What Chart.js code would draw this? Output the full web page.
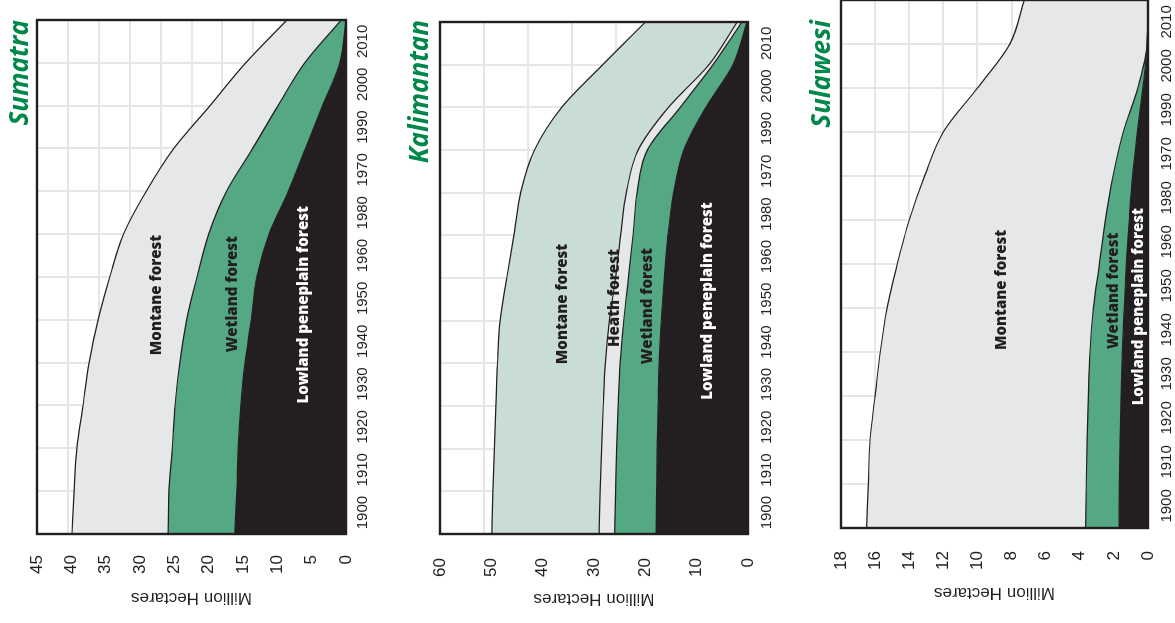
<!DOCTYPE html>
<html>
<head>
<meta charset="utf-8">
<script src="https://cdn.jsdelivr.net/npm/chart.js@4.4.1/dist/chart.umd.min.js"></script>
<style>
  body { margin: 0; background: #fff; width: 1175px; height: 623px; overflow: hidden; position: relative; }
  canvas { position: absolute; left: 0; top: 0; transform-origin: 0 0; }
</style>
</head>
<body>
<canvas id="sumatraChart"></canvas>
<canvas id="kalimantanChart"></canvas>
<canvas id="sulawesiChart"></canvas>
<script>
// sample positions along the time axis (one per grid line) and the printed labels
const yearPositions = [1900, 1910, 1920, 1930, 1940, 1950, 1960, 1970, 1980, 1990, 2000, 2010, 2020];
const yearLabels = ['1900', '1910', '1920', '1930', '1940', '1950', '1960', '1980', '1970', '1990', '2000', '2010'];

// million hectares per forest type
const sumatraLowland = [16.2, 15.9, 15.7, 15.3, 14.7, 13.8, 13.0, 11.2, 8.4, 5.9, 3.4, 0.9, 0];
const sumatraWetland = [9.7, 9.9, 9.6, 9.6, 9.5, 9.4, 8.7, 8.8, 9.0, 7.7, 6.5, 5.1, 0.7];
const sumatraMontane = [14.0, 13.8, 13.9, 13.4, 13.2, 12.9, 12.7, 12.4, 11.7, 11.5, 9.9, 8.6, 7.9];

const kalimantanLowland = [17.9, 17.8, 17.7, 17.5, 17.3, 16.9, 16.3, 15.6, 14.5, 12.5, 8.2, 2.9, 0.2];
const kalimantanWetland = [8.1, 8.0, 7.9, 7.8, 7.6, 7.3, 7.0, 6.8, 7.1, 7.1, 5.0, 3.9, 1.0];
const kalimantanHeath = [3.0, 3.0, 2.9, 2.9, 2.9, 2.8, 2.5, 2.4, 2.1, 1.8, 2.3, 0.8, 0.9];
const kalimantanMontane = [20.9, 20.9, 20.9, 20.9, 21.0, 21.3, 21.2, 20.8, 20.6, 20.2, 20.8, 20.7, 17.9];

const sulawesiLowland = [1.7, 1.68, 1.64, 1.58, 1.5, 1.39, 1.27, 1.1, 0.9, 0.62, 0.3, 0.05, 0];
const sulawesiWetland = [1.96, 1.94, 1.93, 1.92, 1.9, 1.81, 1.58, 1.4, 1.15, 0.83, 0.3, 0, 0];
const sulawesiMontane = [12.84, 12.78, 12.73, 12.5, 12.3, 12.1, 11.85, 11.5, 11.05, 10.55, 9.4, 8.05, 7.25];

const INK = '#231f20';
const GREEN = '#54a883';
const GREY = '#e6e7e8';
const PALE = '#c9ddd6';

const panels = [
  {
    id: 'sumatraChart', left: 0, top: 0, w: 623, h: 390,
    area: { left: 89, right: 603, top: 37, bottom: 346 },
    max: 45, step: 5, gridDiv: 10, tickPad: 13, titlePad: 15, yearPad: 8,
    title: 'Sumatra', titleY: 28,
    series: [
      { label: 'Lowland peneplain forest', data: sumatraLowland, color: INK },
      { label: 'Wetland forest', data: sumatraWetland, color: GREEN },
      { label: 'Montane forest', data: sumatraMontane, color: GREY }
    ],
    notes: [
      { text: 'Montane forest', year: 1955.8, value: 27.5, color: INK },
      { text: 'Wetland forest', year: 1956, value: 16.5, color: INK },
      { text: 'Lowland peneplain forest', year: 1953.5, value: 6.1, color: '#fff' }
    ]
  },
  {
    id: 'kalimantanChart', left: 390, top: 0, w: 623, h: 395,
    area: { left: 89, right: 601, top: 50, bottom: 358 },
    max: 60, step: 10, gridDiv: 7, tickPad: 16, titlePad: 14, yearPad: 10,
    title: 'Kalimantan', titleY: 38,
    series: [
      { label: 'Lowland peneplain forest', data: kalimantanLowland, color: INK },
      { label: 'Wetland forest', data: kalimantanWetland, color: GREEN },
      { label: 'Heath forest', data: kalimantanHeath, color: GREY },
      { label: 'Montane forest', data: kalimantanMontane, color: PALE }
    ],
    notes: [
      { text: 'Montane forest', year: 1953.9, value: 36.0, color: INK },
      { text: 'Heath forest', year: 1955.3, value: 25.9, color: INK },
      { text: 'Wetland forest', year: 1953.4, value: 19.5, color: INK },
      { text: 'Lowland peneplain forest', year: 1954.6, value: 7.8, color: '#fff' }
    ]
  },
  {
    id: 'sulawesiChart', left: 785, top: -10, w: 633, h: 390,
    area: { left: 95, right: 625, top: 56, bottom: 363 },
    max: 18, step: 2, gridDiv: 9, tickPad: 15, titlePad: 20, yearPad: 10,
    title: 'Sulawesi', titleY: 45,
    series: [
      { label: 'Lowland peneplain forest', data: sulawesiLowland, color: INK },
      { label: 'Wetland forest', data: sulawesiWetland, color: GREEN },
      { label: 'Montane forest', data: sulawesiMontane, color: GREY }
    ],
    notes: [
      { text: 'Montane forest', year: 1954.1, value: 8.6, color: INK },
      { text: 'Wetland forest', year: 1953.9, value: 2.0, color: INK },
      { text: 'Lowland peneplain forest', year: 1950.3, value: 0.53, color: '#fff' }
    ]
  }
];

// frame, in-area labels and the green island name
const panelText = {
  id: 'panelText',
  afterDatasetsDraw(chart, args, opts) {
    const { ctx, chartArea, scales } = chart;
    ctx.save();
    ctx.strokeStyle = INK;
    ctx.lineWidth = 2.4;
    ctx.strokeRect(chartArea.left, chartArea.top, chartArea.width, chartArea.height);
    ctx.font = '800 15px "Open Sans"';
    ctx.textAlign = 'center';
    ctx.textBaseline = 'middle';
    opts.notes.forEach(n => {
      ctx.fillStyle = n.color;
      ctx.fillText(n.text, scales.x.getPixelForValue(n.year), scales.y.getPixelForValue(n.value));
    });
    ctx.font = 'italic bold 26px "Open Sans"';
    ctx.fillStyle = '#00884a';
    ctx.textAlign = 'right';
    ctx.textBaseline = 'alphabetic';
    ctx.fillText(opts.title, opts.titleX, opts.titleY);
    ctx.restore();
  }
};

panels.forEach(p => {
  const canvas = document.getElementById(p.id);
  canvas.width = p.w;
  canvas.height = p.h;
  canvas.style.width = p.w + 'px';
  canvas.style.height = p.h + 'px';
  canvas.style.transform = 'translate(' + p.left + 'px,' + (p.top + p.w) + 'px) rotate(-90deg)';

  const half = (p.area.right - p.area.left) / 12 / 2;

  new Chart(canvas.getContext('2d'), {
    type: 'line',
    data: {
      datasets: p.series.map((s, i) => ({
        label: s.label,
        data: s.data.map((v, k) => ({ x: yearPositions[k], y: v })),
        backgroundColor: s.color,
        borderColor: INK,
        borderWidth: 1.2,
        pointRadius: 0,
        fill: i === 0 ? 'origin' : '-1',
        cubicInterpolationMode: 'monotone'
      }))
    },
    options: {
      responsive: false,
      devicePixelRatio: 1,
      animation: false,
      layout: { padding: { top: p.area.top, left: 0, right: p.w - p.area.right, bottom: 0 } },
      plugins: {
        legend: { display: false },
        title: { display: false },
        tooltip: { enabled: false },
        panelText: { notes: p.notes, title: p.title, titleX: 603, titleY: p.titleY }
      },
      scales: {
        x: {
          type: 'linear',
          min: 1900,
          max: 2020,
          border: { display: false },
          grid: { color: '#e6e6e6', lineWidth: 2, drawTicks: false },
          ticks: {
            stepSize: 10,
            autoSkip: false,
            maxRotation: 0,
            minRotation: 0,
            labelOffset: half,
            padding: p.yearPad,
            color: INK,
            font: { family: '"Liberation Sans"', size: 15 },
            callback: (value, index) => yearLabels[index] || ''
          },
          afterFit: s => { s.height = p.h - p.area.bottom; }
        },
        y: {
          stacked: true,
          min: 0,
          max: p.max,
          weight: 1,
          border: { display: false },
          grid: { display: false },
          ticks: {
            stepSize: p.step,
            padding: p.tickPad,
            color: INK,
            font: { family: '"Liberation Sans"', size: 17 }
          },
          title: {
            display: true,
            text: 'Million Hectares',
            color: INK,
            font: { family: '"Liberation Sans"', size: 17 },
            padding: { top: p.titlePad, bottom: 0 }
          },
          afterFit: s => { s.width = p.area.left; }
        },
        grid2: {
          type: 'linear',
          position: 'left',
          min: 0,
          max: p.gridDiv,
          weight: 0,
          border: { display: false },
          grid: { color: '#e6e6e6', lineWidth: 2, drawTicks: false },
          ticks: { display: false, stepSize: 1 },
          afterFit: s => { s.width = 0; }
        }
      }
    },
    plugins: [panelText]
  });
});
</script>
</body>
</html>
